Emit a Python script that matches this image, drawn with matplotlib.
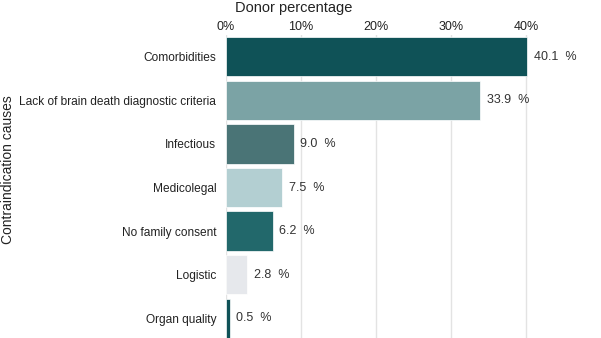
import matplotlib.pyplot as plt

plt.rcParams['font.family'] = ['Liberation Sans', 'DejaVu Sans']

causes = ['Comorbidities', 'Lack of brain death diagnostic criteria', 'Infectious',
          'Medicolegal', 'No family consent', 'Logistic', 'Organ quality']
percent = [40.1, 33.9, 9.0, 7.5, 6.2, 2.8, 0.5]
colors = ['#0f5257', '#7ba3a5', '#4a7476', '#b3cfd2', '#22686b', '#e6e8ec', '#0f5257']
ticks = [0, 10, 20, 30, 40]

fig = plt.figure(figsize=(6.01, 3.38), dpi=100)
ax = fig.add_axes([226 / 601, -2 / 338, 1 - 226 / 601, (338 - 35 + 2) / 338])

ypos = list(range(len(causes)))
ax.barh(ypos, percent, height=0.9, color=colors, edgecolor='white', linewidth=0.5, zorder=2)
for y, v in zip(ypos, percent):
    ax.text(v + 0.9, y, f'{v:.1f}  %', va='center', ha='left', fontsize=9, color='#333333')

ax.set_xlim(0, 50)
ax.set_ylim(len(causes) - 0.5, -0.5)
ax.set_yticks(ypos)
ax.set_yticklabels(causes, fontsize=8.6, color='#222222')
ax.xaxis.tick_top()
ax.set_xticks(ticks)
ax.set_xticklabels([f'{t}%' for t in ticks], fontsize=9, color='#222222')
ax.tick_params(length=0)
ax.tick_params(axis='x', pad=1.5)
ax.tick_params(axis='y', pad=7)
ax.grid(axis='x', color='#e3e3e3', linewidth=1, zorder=0)
for s in ax.spines.values():
    s.set_visible(False)

fig.text(235 / 601, 1 - 8 / 338, 'Donor percentage', ha='left', va='center', fontsize=10.5, color='#222222')
fig.text(8 / 601, 1 - 170 / 338, 'Contraindication causes', rotation=90, ha='center', va='center',
         fontsize=10, color='#222222')

fig.savefig('out.png', dpi=100)
